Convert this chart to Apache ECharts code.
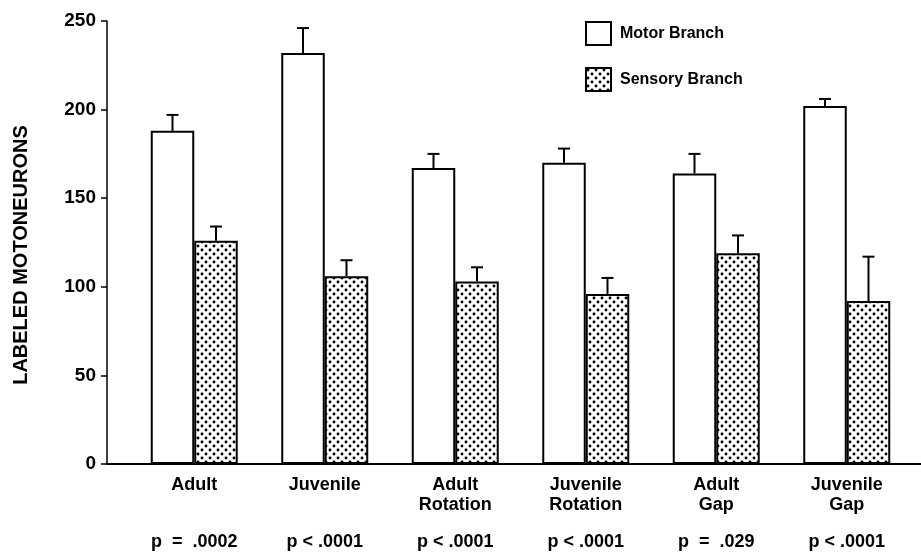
<!DOCTYPE html>
<html>
<head>
<meta charset="utf-8">
<script src="https://cdn.jsdelivr.net/npm/echarts@6/dist/echarts.min.js"></script>
<style>
html,body{margin:0;padding:0;background:#fff;}
#chart{width:921px;height:552px;}
</style>
</head>
<body>
<div id="chart"></div>
<script>
const categories = ['Adult', 'Juvenile', 'Adult\nRotation', 'Juvenile\nRotation', 'Adult\nGap', 'Juvenile\nGap'];
const pLabels = ['p  =  .0002', 'p < .0001', 'p < .0001', 'p < .0001', 'p  =  .029', 'p < .0001'];
const motor = [188, 232, 167, 170, 164, 202];
const motorErrTop = [197, 246, 175, 178, 175, 206];
const sensory = [126, 106, 103, 96, 119, 92];
const sensoryErrTop = [134, 115, 111, 105, 129, 117];
const yTicks = [0, 50, 100, 150, 200, 250];

const FONT = "'Liberation Sans', Arial, Helvetica, sans-serif";

function dotPattern() {
  const c = document.createElement('canvas');
  c.width = 8; c.height = 8;
  const g = c.getContext('2d');
  g.fillStyle = '#fff';
  g.fillRect(0, 0, 8, 8);
  g.fillStyle = '#000';
  [[2, 2], [6, 6]].forEach(function (p) {
    g.beginPath();
    g.arc(p[0], p[1], 1.45, 0, Math.PI * 2);
    g.fill();
  });
  return c;
}
const pattern = { image: dotPattern(), repeat: 'repeat' };

function errData(vals, tops) {
  return vals.map(function (v, i) { return [i, v, tops[i]]; });
}
function errRenderer(side) {
  return function (params, api) {
    const idx = api.value(0);
    const p0 = api.coord([idx, api.value(1)]);
    const p1 = api.coord([idx, api.value(2)]);
    const band = api.size([1, 0])[0];
    const cx = p0[0] + side * band / 6;
    const style = { stroke: '#000', lineWidth: 2 };
    return {
      type: 'group',
      children: [
        { type: 'line', shape: { x1: cx, y1: p0[1], x2: cx, y2: p1[1] }, style: style },
        { type: 'line', shape: { x1: cx - 6, y1: p1[1], x2: cx + 6, y2: p1[1] }, style: style }
      ]
    };
  };
}

const chart = echarts.init(document.getElementById('chart'));
chart.setOption({
  backgroundColor: '#fff',
  animation: false,
  textStyle: { fontFamily: FONT },
  legend: {
    orient: 'vertical',
    left: 585,
    top: 21,
    padding: 0,
    itemWidth: 25,
    itemHeight: 23,
    itemGap: 21,
    icon: 'rect',
    selectedMode: false,
    itemStyle: { borderColor: '#000', borderWidth: 2 },
    textStyle: { fontFamily: FONT, fontWeight: 'bold', fontSize: 16, color: '#000', padding: [0, 0, 0, 4] },
    data: ['Motor Branch', 'Sensory Branch']
  },
  grid: [
    { left: 129, right: 9, top: 21, bottom: 88 },
    { left: 107, right: 0, top: 21, bottom: 88 }
  ],
  xAxis: [
    {
      type: 'category',
      gridIndex: 0,
      data: categories,
      axisLine: { show: false },
      axisTick: { show: false },
      axisLabel: {
        margin: 11, interval: 0,
        fontFamily: FONT, fontWeight: 'bold', fontSize: 18, lineHeight: 20, color: '#000'
      }
    },
    {
      type: 'category',
      gridIndex: 0,
      position: 'bottom',
      data: pLabels,
      axisLine: { show: false },
      axisTick: { show: false },
      axisLabel: {
        margin: 68, interval: 0,
        fontFamily: FONT, fontWeight: 'bold', fontSize: 18, lineHeight: 20, color: '#000'
      }
    },
    {
      type: 'value',
      gridIndex: 1,
      min: 0, max: 1,
      axisLine: { show: true, lineStyle: { color: '#000', width: 2 } },
      axisTick: { show: false },
      axisLabel: { show: false },
      splitLine: { show: false }
    }
  ],
  yAxis: [
    {
      type: 'value',
      gridIndex: 0,
      min: 0, max: 250, interval: 50,
      offset: 22,
      name: 'LABELED MOTONEURONS',
      nameLocation: 'middle',
      nameRotate: 90,
      nameGap: 76,
      nameTextStyle: { fontFamily: FONT, fontWeight: 'bold', fontSize: 20, color: '#000', padding: [0, 25, 0, 0] },
      axisLine: { show: true, lineStyle: { color: '#000', width: 1.5 } },
      axisTick: { show: true, length: 6, inside: false, lineStyle: { color: '#000', width: 1.5 } },
      axisLabel: {
        margin: 11,
        fontFamily: FONT, fontWeight: 'bold', fontSize: 19, color: '#000',
        formatter: function (v) { return yTicks.indexOf(v) >= 0 ? String(v) : ''; }
      },
      splitLine: { show: false }
    },
    {
      type: 'value',
      gridIndex: 1,
      show: false,
      min: 0, max: 1
    }
  ],
  series: [
    {
      name: 'Motor Branch',
      type: 'bar',
      xAxisIndex: 0, yAxisIndex: 0,
      data: motor,
      barWidth: '33.33%',
      barGap: '0%',
      itemStyle: { color: '#fff', borderColor: '#000', borderWidth: 2 }
    },
    {
      name: 'Sensory Branch',
      type: 'bar',
      xAxisIndex: 0, yAxisIndex: 0,
      data: sensory,
      barWidth: '33.33%',
      barGap: '0%',
      itemStyle: { color: pattern, borderColor: '#000', borderWidth: 2 }
    },
    {
      type: 'custom',
      xAxisIndex: 0, yAxisIndex: 0,
      data: errData(motor, motorErrTop),
      encode: { x: 0, y: [1, 2] },
      renderItem: errRenderer(-1),
      z: 3
    },
    {
      type: 'custom',
      xAxisIndex: 0, yAxisIndex: 0,
      data: errData(sensory, sensoryErrTop),
      encode: { x: 0, y: [1, 2] },
      renderItem: errRenderer(1),
      z: 3
    }
  ]
});
</script>
</body>
</html>
